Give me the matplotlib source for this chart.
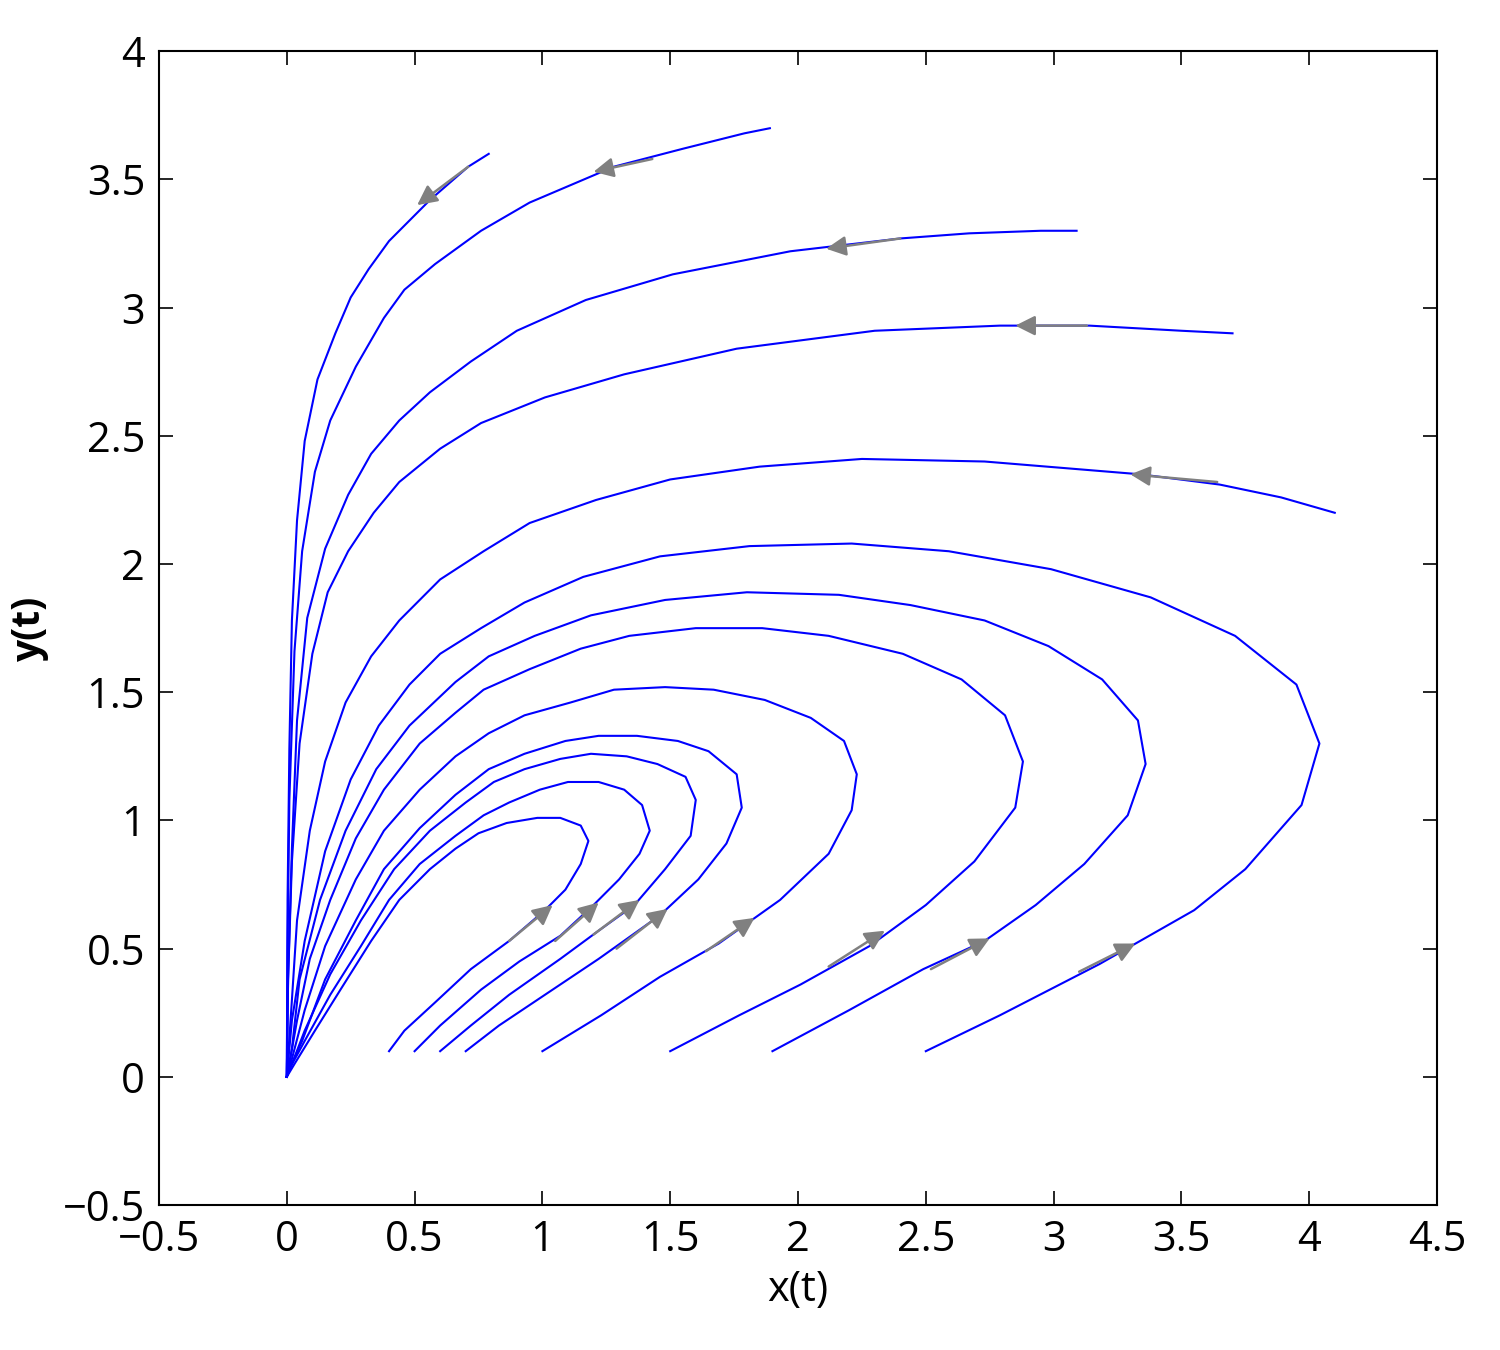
import matplotlib
matplotlib.use("Agg")
import matplotlib.pyplot as plt

plt.rcParams['font.family'] = ['Liberation Sans Narrow', 'Open Sans', 'DejaVu Sans']

T1 = [(0.40,0.10),(0.46,0.18),(0.58,0.29),(0.72,0.42),(0.87,0.53),(1.01,0.65),(1.09,0.73),(1.15,0.83),(1.18,0.92),(1.15,0.98),(1.07,1.01),(0.98,1.01),(0.86,0.99),(0.75,0.95),(0.66,0.89),(0.56,0.81),(0.44,0.69),(0.33,0.53),(0.21,0.34),(0.11,0.18),(0.03,0.05),(0,0)]
T2 = [(0.50,0.10),(0.60,0.20),(0.76,0.34),(0.91,0.45),(1.07,0.55),(1.20,0.67),(1.30,0.77),(1.38,0.87),(1.42,0.96),(1.39,1.06),(1.32,1.12),(1.22,1.15),(1.10,1.15),(0.99,1.12),(0.87,1.07),(0.77,1.02),(0.66,0.94),(0.52,0.83),(0.40,0.69),(0.29,0.51),(0.17,0.32),(0.07,0.14),(0.01,0.03),(0,0)]
T3 = [(0.60,0.10),(0.72,0.20),(0.87,0.32),(1.07,0.46),(1.22,0.57),(1.36,0.67),(1.48,0.81),(1.58,0.94),(1.60,1.08),(1.56,1.17),(1.45,1.22),(1.33,1.25),(1.19,1.26),(1.07,1.24),(0.93,1.20),(0.81,1.15),(0.70,1.07),(0.56,0.96),(0.42,0.81),(0.29,0.61),(0.17,0.40),(0.07,0.18),(0.02,0.05),(0,0)]
T4 = [(0.70,0.10),(0.83,0.20),(1.01,0.32),(1.22,0.46),(1.46,0.63),(1.61,0.77),(1.72,0.91),(1.78,1.05),(1.76,1.18),(1.65,1.27),(1.53,1.31),(1.37,1.33),(1.22,1.33),(1.09,1.31),(0.93,1.26),(0.79,1.20),(0.66,1.10),(0.52,0.97),(0.38,0.81),(0.27,0.61),(0.15,0.38),(0.06,0.14),(0.01,0.03),(0,0)]
T5 = [(1.00,0.10),(1.23,0.24),(1.46,0.39),(1.69,0.52),(1.93,0.69),(2.12,0.87),(2.21,1.04),(2.23,1.18),(2.18,1.31),(2.05,1.40),(1.87,1.47),(1.67,1.51),(1.48,1.52),(1.28,1.51),(1.11,1.46),(0.93,1.41),(0.79,1.34),(0.66,1.25),(0.52,1.12),(0.38,0.96),(0.27,0.77),(0.15,0.51),(0.07,0.26),(0.02,0.07),(0,0)]
T6 = [(1.50,0.10),(1.77,0.24),(2.01,0.36),(2.28,0.51),(2.50,0.67),(2.69,0.84),(2.85,1.05),(2.88,1.23),(2.81,1.41),(2.64,1.55),(2.41,1.65),(2.12,1.72),(1.86,1.75),(1.60,1.75),(1.34,1.72),(1.15,1.67),(0.95,1.59),(0.77,1.51),(0.66,1.42),(0.52,1.30),(0.38,1.12),(0.27,0.93),(0.17,0.69),(0.09,0.46),(0.04,0.22),(0.01,0.05),(0,0)]
T7 = [(1.90,0.10),(2.20,0.26),(2.49,0.42),(2.73,0.53),(2.93,0.67),(3.12,0.83),(3.29,1.02),(3.36,1.22),(3.33,1.39),(3.19,1.55),(2.98,1.68),(2.73,1.78),(2.44,1.84),(2.16,1.88),(1.80,1.89),(1.48,1.86),(1.19,1.80),(0.97,1.72),(0.79,1.64),(0.66,1.54),(0.48,1.37),(0.35,1.20),(0.23,0.96),(0.13,0.69),(0.05,0.38),(0.02,0.11),(0,0)]
T8 = [(2.50,0.10),(2.79,0.24),(3.18,0.44),(3.55,0.65),(3.75,0.81),(3.97,1.06),(4.04,1.30),(3.95,1.53),(3.71,1.72),(3.38,1.87),(2.99,1.98),(2.59,2.05),(2.21,2.08),(1.81,2.07),(1.46,2.03),(1.16,1.95),(0.93,1.85),(0.76,1.75),(0.60,1.65),(0.48,1.53),(0.36,1.37),(0.25,1.16),(0.15,0.88),(0.07,0.53),(0.02,0.22),(0,0)]
T9 = [(4.10,2.20),(3.89,2.26),(3.65,2.31),(3.34,2.35),(2.73,2.40),(2.25,2.41),(1.85,2.38),(1.50,2.33),(1.21,2.25),(0.95,2.16),(0.77,2.05),(0.60,1.94),(0.44,1.78),(0.33,1.64),(0.23,1.46),(0.15,1.23),(0.09,0.96),(0.04,0.61),(0.02,0.30),(0,0)]
T10 = [(3.70,2.90),(3.50,2.91),(3.14,2.93),(2.79,2.93),(2.30,2.91),(1.76,2.84),(1.32,2.74),(1.01,2.65),(0.76,2.55),(0.60,2.45),(0.44,2.32),(0.34,2.20),(0.24,2.05),(0.16,1.89),(0.10,1.65),(0.05,1.30),(0.02,0.84),(0.005,0.38),(0,0)]
T11 = [(3.09,3.30),(2.95,3.30),(2.67,3.29),(2.40,3.27),(1.97,3.22),(1.51,3.13),(1.17,3.03),(0.90,2.91),(0.72,2.79),(0.56,2.67),(0.44,2.56),(0.33,2.43),(0.24,2.27),(0.15,2.06),(0.08,1.79),(0.04,1.39),(0.02,0.89),(0.005,0.38),(0,0)]
T12 = [(1.89,3.70),(1.79,3.68),(1.55,3.62),(1.28,3.55),(0.95,3.41),(0.76,3.30),(0.58,3.17),(0.46,3.07),(0.38,2.96),(0.27,2.77),(0.17,2.56),(0.11,2.36),(0.06,2.05),(0.03,1.66),(0.01,1.08),(0.003,0.50),(0,0)]
T13 = [(0.79,3.60),(0.71,3.55),(0.56,3.42),(0.40,3.26),(0.32,3.15),(0.25,3.04),(0.19,2.90),(0.12,2.72),(0.07,2.48),(0.04,2.17),(0.02,1.78),(0.01,1.28),(0.003,0.69),(0,0)]
trajectories = [T1,T2,T3,T4,T5,T6,T7,T8,T9,T10,T11,T12,T13]

arrow_tails = [(0.87,0.53),(1.05,0.53),(1.20,0.555),(1.29,0.50),(1.64,0.49),(2.12,0.43),(2.52,0.42),(3.10,0.41),
               (3.64,2.32),(3.13,2.93),(2.40,3.27),(1.43,3.58),(0.71,3.55)]
arrow_heads = [(1.04,0.67),(1.22,0.68),(1.38,0.69),(1.49,0.655),(1.83,0.62),(2.34,0.57),(2.75,0.54),(3.32,0.52),
               (3.30,2.35),(2.85,2.93),(2.11,3.23),(1.20,3.53),(0.51,3.40)]

xticks = [-0.5,0,0.5,1,1.5,2,2.5,3,3.5,4,4.5]
yticks = [-0.5,0,0.5,1,1.5,2,2.5,3,3.5,4]

fig = plt.figure(figsize=(15,13.5), dpi=100)
ax = fig.add_axes([0.106,0.1074,0.852,0.8546])
for t in trajectories:
    xs = [p[0] for p in t]; ys = [p[1] for p in t]
    ax.plot(xs, ys, color='#0000ff', lw=1.5)
for (tx,ty),(hx,hy) in zip(arrow_tails, arrow_heads):
    ax.annotate('', xy=(hx,hy), xytext=(tx,ty),
                arrowprops=dict(arrowstyle='-|>', color='#808080', lw=1.8, mutation_scale=30,
                                shrinkA=0, shrinkB=0))
ax.set_xlim(-0.5,4.5); ax.set_ylim(-0.5,4)
ax.set_xticks(xticks); ax.set_yticks(yticks)
fmt = lambda v: ('\u2212' + ('%g' % -v)) if v < 0 else '%g' % v
ax.set_xticklabels([fmt(v) for v in xticks]); ax.set_yticklabels([fmt(v) for v in yticks])
ax.tick_params(direction='in', top=True, right=True, length=10, width=1.2, labelsize=30, pad=10)
for s in ax.spines.values():
    s.set_linewidth(1.5)
ax.set_xlabel('x(t)', fontsize=30, labelpad=6)
ax.set_ylabel('y(t)', fontsize=28, fontweight='bold', labelpad=10)
fig.savefig('out.png', dpi=100)
